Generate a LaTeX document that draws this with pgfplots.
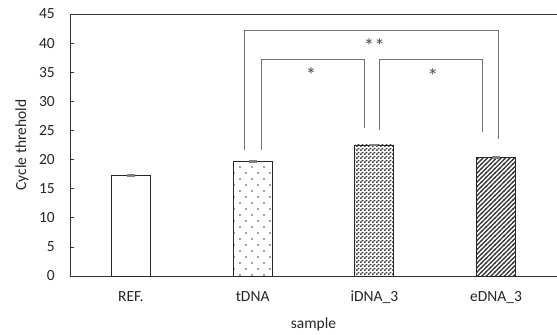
\documentclass[border=0pt]{standalone}
\usepackage{pgfplots}
\pgfplotsset{compat=1.18}
\usepackage{fontspec}
\setmainfont{Carlito}
\usetikzlibrary{patterns,calc}
\pgfdeclarepatternformonly{sparsedots}{\pgfqpoint{-1pt}{-1pt}}{\pgfqpoint{13pt}{13pt}}{\pgfqpoint{12pt}{12pt}}{%
  \pgfpathrectangle{\pgfqpoint{-0.6pt}{-0.6pt}}{\pgfqpoint{1.2pt}{1.2pt}}%
  \pgfpathrectangle{\pgfqpoint{5.4pt}{5.4pt}}{\pgfqpoint{1.2pt}{1.2pt}}%
  \pgfusepath{fill}}
\pgfdeclarepatternformonly{checker}{\pgfqpoint{0pt}{0pt}}{\pgfqpoint{4pt}{4pt}}{\pgfqpoint{4pt}{4pt}}{%
  \pgfpathrectangle{\pgfqpoint{0pt}{0pt}}{\pgfqpoint{2pt}{2pt}}%
  \pgfpathrectangle{\pgfqpoint{2pt}{2pt}}{\pgfqpoint{2pt}{2pt}}%
  \pgfusepath{fill}}
\pgfdeclarepatternformonly{hatch}{\pgfqpoint{-1pt}{-1pt}}{\pgfqpoint{5.5pt}{5.5pt}}{\pgfqpoint{4.5pt}{4.5pt}}{%
  \pgfsetlinewidth{1.1pt}%
  \pgfpathmoveto{\pgfqpoint{-0.5pt}{-0.5pt}}%
  \pgfpathlineto{\pgfqpoint{5pt}{5pt}}%
  \pgfusepath{stroke}}
\begin{document}
\begin{tikzpicture}[font=\fontsize{15.5}{18}\selectfont]
\begin{axis}[name=ax,
  scale only axis, width=487pt, height=262pt,
  xmin=-0.5, xmax=3.5, ymin=0, ymax=45,
  axis x line*=box, axis y line*=left,
  axis line style={black!80, line width=0.9pt},
  xtick={0,1,2,3}, xticklabels={REF., tDNA, iDNA\_3, eDNA\_3},
  xtick style={draw=none},
  xticklabel style={anchor=base, yshift=-26pt, text=black!85},
  ytick={0,5,...,45},
  ytick style={black!80, line width=0.7pt},
  tick align=inside, major tick length=4pt,
  yticklabel style={anchor=east, inner sep=0pt, xshift=-15pt, text=black!85},
  /pgf/number format/assume math mode=true,
  ylabel={Cycle threhold}, xlabel={sample},
  ylabel style={at={(axis description cs:-0.0986,0.5)}, anchor=center, text=black!85},
  xlabel style={at={(axis description cs:0.5,0)}, anchor=base, yshift=-53pt, text=black!85},
  clip=false,
  every tick label/.append style={font=\fontsize{15.5}{18}\selectfont},
  label style={font=\fontsize{15.5}{18}\selectfont},
  error bars/error bar style={gray, line width=1pt},
  error bars/error mark=|,
  error bars/error mark options={gray, line width=1.5pt, mark size=4pt},
]
\addplot[ybar, bar width=39pt, draw=black!85, line width=0.8pt, fill=white,
  error bars/.cd, y dir=both, y explicit]
  coordinates {(0,17.2) +- (0,0.15)};
\addplot[ybar, bar width=39pt, draw=black!85, line width=0.8pt, pattern=sparsedots, pattern color=black!85,
  error bars/.cd, y dir=both, y explicit]
  coordinates {(1,19.6) +- (0,0.12)};
\addplot[ybar, bar width=39pt, draw=black!85, line width=0.8pt, pattern=checker, pattern color=black!75,
  error bars/.cd, y dir=both, y explicit]
  coordinates {(2,22.5) +- (0,0.12)};
\addplot[ybar, bar width=39pt, draw=black!85, line width=0.8pt, pattern=hatch, pattern color=black!80,
  error bars/.cd, y dir=both, y explicit]
  coordinates {(3,20.3) +- (0,0.12)};
% significance brackets
\addplot[black!55, line width=0.9pt, mark=none] coordinates {(0.93,21.6) (0.93,42.1) (3.02,42.1) (3.02,23.5)};
\addplot[black!55, line width=0.9pt, mark=none] coordinates {(1.07,21.6) (1.07,37.2) (1.92,37.2) (1.92,25.4)};
\addplot[black!55, line width=0.9pt, mark=none] coordinates {(2.04,25.1) (2.04,37.2) (2.89,37.2) (2.89,24.8)};
\node[text=black!70, anchor=base, font=\fontsize{21}{24}\selectfont, inner sep=0pt] at (axis cs:2.0,38.2) {**};
\node[text=black!70, anchor=base, font=\fontsize{21}{24}\selectfont, inner sep=0pt] at (axis cs:1.48,33.2) {*};
\node[text=black!70, anchor=base, font=\fontsize{21}{24}\selectfont, inner sep=0pt] at (axis cs:2.48,33.0) {*};
\end{axis}
\pgfresetboundingbox
\path[use as bounding box] ($(ax.south west)+(-70pt,-59pt)$) rectangle ($(ax.north east)+(0pt,14pt)$);
\end{tikzpicture}
\end{document}
